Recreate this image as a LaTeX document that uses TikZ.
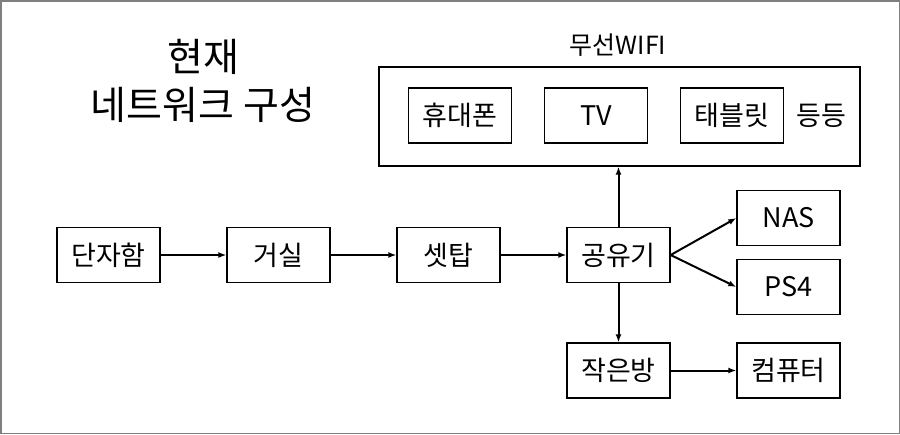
\documentclass[tikz,border=0pt]{standalone}
\usepackage{fontspec}
\setmainfont{Noto Sans CJK KR}
\usetikzlibrary{arrows.meta}
\definecolor{framegray}{HTML}{7F7F7F}

\begin{document}
\begin{tikzpicture}[x=1pt,y=-1pt,
  box/.style={draw, line width=1.3pt, minimum width=103pt, minimum height=55pt,
    inner sep=0pt, font=\fontsize{27}{30}\selectfont},
  link/.style={line width=2pt, -{Latex[length=8pt,width=6pt]}}
]
  % page frame
  \draw[framegray, line width=1.5pt] (0.75,0.75) rectangle (899.25,433.25);
  \useasboundingbox (0,0) rectangle (900,434);

  % title
  \node[align=center, font=\fontsize{39}{48}\selectfont] (title) at (203,81) {현재\\네트워크 구성};

  % wireless group
  \node[font=\fontsize{25}{28}\selectfont] (wifilabel) at (618,45) {무선WIFI};
  \node[draw, line width=1.3pt, minimum width=481pt, minimum height=99pt, inner sep=0pt] (wifi) at (619.5,116.5) {};
  \node[box] (phone) at (460,115.5) {휴대폰};
  \node[box] (tv) at (596,115.5) {TV};
  \node[box] (tablet) at (732,115.5) {태블릿};
  \node[font=\fontsize{27}{30}\selectfont] (etc) at (821,115.5) {등등};

  % main chain
  \node[box] (closet) at (108.5,255) {단자함};
  \node[box] (living) at (278.5,255) {거실};
  \node[box] (settop) at (448.5,255) {셋탑};
  \node[box] (router) at (618.5,255) {공유기};
  \node[box] (nas) at (788.5,218) {NAS};
  \node[box] (ps) at (788.5,287) {PS4};
  \node[box] (room) at (618.5,370.5) {작은방};
  \node[box] (pc) at (788.5,370.5) {컴퓨터};

  \draw[link] (closet) -- (living);
  \draw[link] (living) -- (settop);
  \draw[link] (settop) -- (router);
  \draw[link] (router) -- (wifi.south -| router.north);
  \draw[link] (router.east) -- (nas.west);
  \draw[link] (router.east) -- (ps.west);
  \draw[link] (router) -- (room);
  \draw[link] (room) -- (pc);
\end{tikzpicture}
\end{document}
